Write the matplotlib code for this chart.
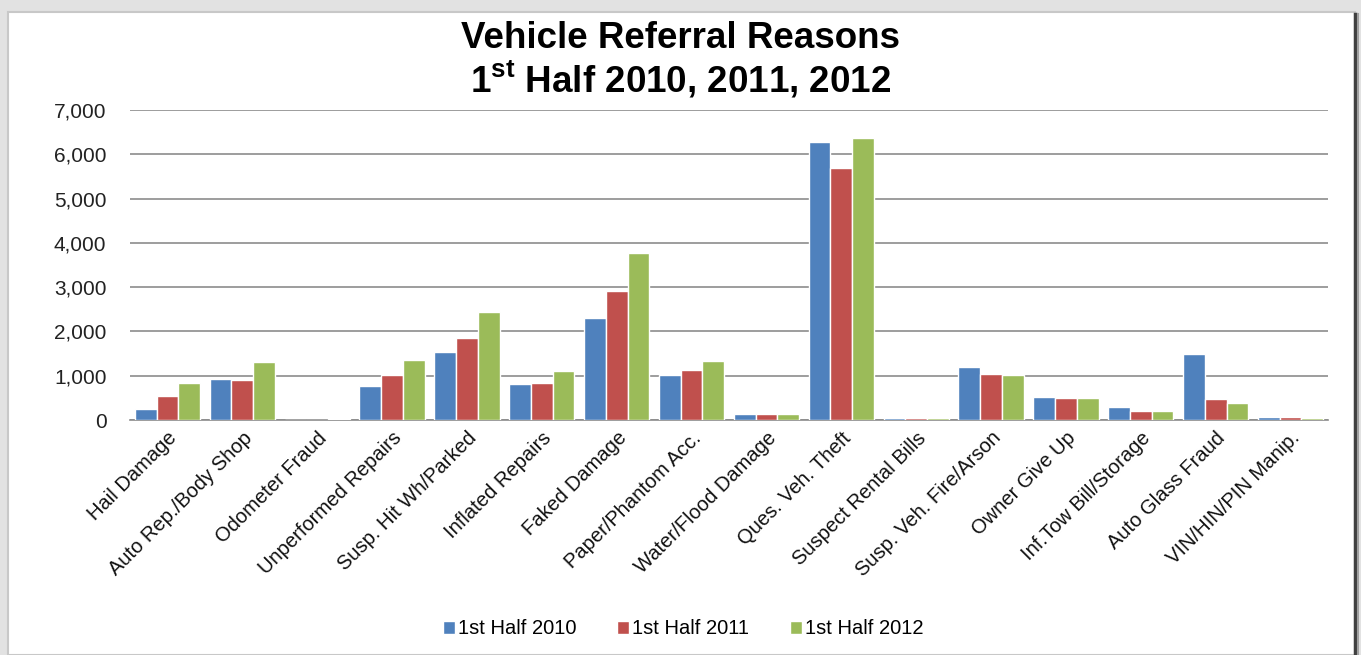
import matplotlib
matplotlib.use("Agg")
import matplotlib.pyplot as plt
import numpy as np
from matplotlib.patches import Rectangle

categories = ["Hail Damage", "Auto Rep./Body Shop", "Odometer Fraud", "Unperformed Repairs",
              "Susp. Hit Wh/Parked", "Inflated Repairs", "Faked Damage", "Paper/Phantom Acc.",
              "Water/Flood Damage", "Ques. Veh. Theft", "Suspect Rental Bills",
              "Susp. Veh. Fire/Arson", "Owner Give Up", "Inf.Tow Bill/Storage",
              "Auto Glass Fraud", "VIN/HIN/PIN Manip."]
h2010 = [240, 930, 0, 760, 1530, 810, 2310, 1010, 130, 6280, 40, 1190, 530, 290, 1480, 60]
h2011 = [535, 900, 0, 1015, 1850, 840, 2920, 1130, 130, 5700, 40, 1045, 500, 210, 465, 60]
h2012 = [845, 1300, 30, 1360, 2450, 1100, 3775, 1330, 130, 6360, 35, 1005, 500, 210, 375, 38]
series_labels = ["1st Half 2010", "1st Half 2011", "1st Half 2012"]
colors = ["#4F81BD", "#C0504D", "#9BBB59"]
yticks = [0, 1000, 2000, 3000, 4000, 5000, 6000, 7000]

plt.rcParams['font.family'] = ['Liberation Sans', 'DejaVu Sans']

fig = plt.figure(figsize=(13.61, 6.55), dpi=100)
fig.patch.set_facecolor("#e2e2e2")

# white panel with frame
panel = Rectangle((8/1361, 0), (1355-8)/1361, 1 - 12/655, transform=fig.transFigure,
                  facecolor="white", edgecolor="#c8c8c8", linewidth=1.5, zorder=0)
fig.add_artist(panel)
fig.add_artist(plt.Line2D([1355/1361, 1355/1361], [0, 1 - 14/655], transform=fig.transFigure,
                          color="#404040", linewidth=2.5))
fig.add_artist(plt.Line2D([1358/1361, 1358/1361], [0, 1 - 14/655], transform=fig.transFigure,
                          color="#a0a0a0", linewidth=1.5))

ax = fig.add_axes([130/1361, 1 - 420/655, (1328-130)/1361, (420-110)/655])
ax.set_facecolor("none")

x = np.arange(len(categories))
w = 0.29
for i, (vals, lab, c) in enumerate(zip([h2010, h2011, h2012], series_labels, colors)):
    ax.bar(x + (i - 1) * w, vals, width=w, color=c, edgecolor="white", linewidth=1.0,
           label=lab, zorder=3)

ax.set_xlim(-0.5, len(categories) - 0.5)
ax.set_ylim(0, 7000)
ax.set_yticks(yticks)
ax.set_yticklabels([f"{v:,}" for v in yticks], fontsize=15, color="#222222")
ax.yaxis.grid(True, color="#8c8c8c", linewidth=1.2, zorder=0)
ax.set_axisbelow(True)
for s in ["left", "right", "top"]:
    ax.spines[s].set_visible(False)
ax.spines["bottom"].set_color("#8c8c8c")
ax.spines["bottom"].set_linewidth(1.2)
ax.tick_params(axis="y", length=0, pad=17)
ax.tick_params(axis="x", length=0, pad=6)
ax.set_xticks(x)
ax.set_xticklabels(categories, rotation=45, ha="right", va="top", rotation_mode="anchor",
                   fontsize=14.5, color="#111111")

fig.text(0.5, 1 - 38/655, "Vehicle Referral Reasons", ha="center", va="center",
         fontsize=26.5, fontweight="bold")
fig.text(0.5, 1 - 80/655, r"1$^{\mathregular{st}}$ Half 2010, 2011, 2012", ha="center", va="center",
         fontsize=26.5, fontweight="bold")

leg = fig.legend(loc="center", bbox_to_anchor=(0.502, 1 - 629/655), ncol=3, frameon=False,
                 fontsize=14.5, handlelength=0.6, handleheight=0.6, handletextpad=0.15,
                 columnspacing=2.0)

fig.savefig("out.png", dpi=100, facecolor=fig.get_facecolor())
